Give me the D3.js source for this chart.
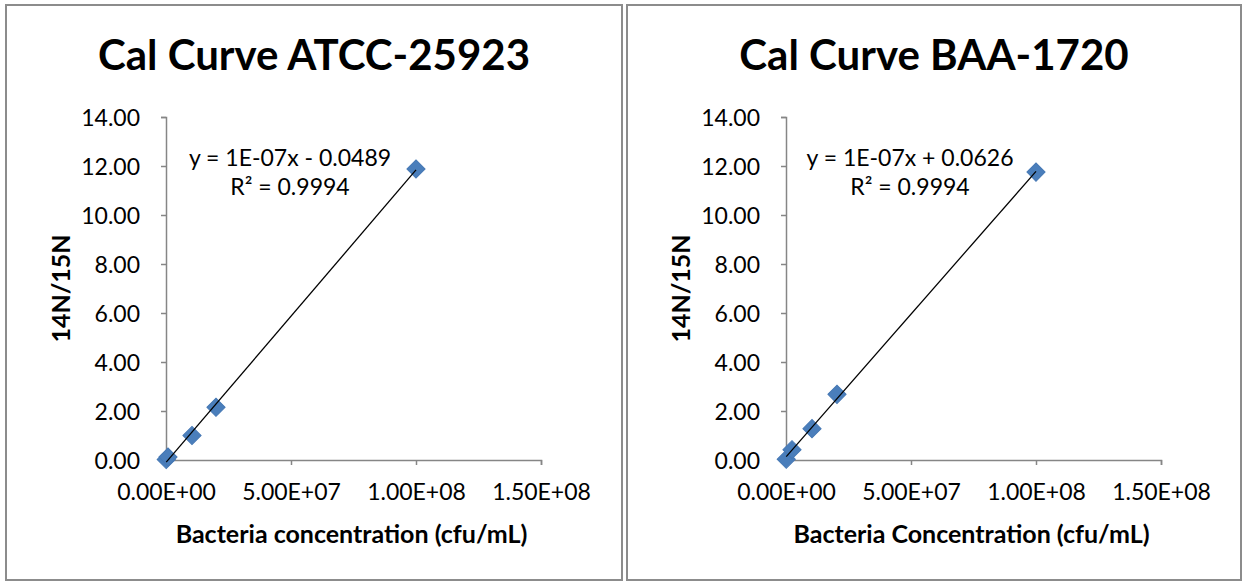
<!DOCTYPE html>
<html>
<head>
<meta charset="utf-8">
<script src="https://cdn.jsdelivr.net/npm/d3@7"></script>
<style>
  body { margin: 0; background: #fff; }
  svg { display: block; font-family: Lato, "Open Sans", sans-serif; }
</style>
</head>
<body>
<svg id="chart" width="1244" height="582"></svg>
<script>
// data
var titles = ["Cal Curve ATCC-25923", "Cal Curve BAA-1720"];
var xTitles = ["Bacteria concentration (cfu/mL)", "Bacteria Concentration (cfu/mL)"];
var equations = ["y = 1E-07x - 0.0489", "y = 1E-07x + 0.0626"];
var r2Labels = ["R\u00b2 = 0.9994", "R\u00b2 = 0.9994"];
var concA = [1e5, 8e5, 1.04e7, 2.0e7, 1.0e8];
var ratioA = [0.02, 0.12, 1.0, 2.15, 11.88];
var concB = [1e5, 2.4e6, 1.04e7, 2.04e7, 1.0e8];
var ratioB = [0.03, 0.42, 1.28, 2.68, 11.75];
var xTicks = [0, 5e7, 1e8, 1.5e8];
var yTicks = [0, 2, 4, 6, 8, 10, 12, 14];

var panels = [
  {x0: 6, w: 616, conc: concA, ratio: ratioA, axisX: 166},
  {x0: 627, w: 614, conc: concB, ratio: ratioB, axisX: 786}
];

var svg = d3.select("#chart");

panels.forEach(function(p, i) {
    var g = svg.append("g");

    // frame
    g.append("rect")
      .attr("x", p.x0).attr("y", 5)
      .attr("width", p.w).attr("height", 575)
      .attr("fill", "#fff")
      .attr("stroke", "#8c8c8c")
      .attr("stroke-width", 2);

    var x = d3.scaleLinear().domain([0, 1.5e8]).range([p.axisX, p.axisX + 375]);
    var y = d3.scaleLinear().domain([0, 14]).range([460, 117]);

    // title
    g.append("text")
      .attr("x", p.axisX + 148).attr("y", 70)
      .attr("text-anchor", "middle")
      .attr("font-size", "42px")
      .attr("font-weight", "bold")
      .text(titles[i]);

    // axes
    var yAxis = g.append("g")
      .attr("transform", "translate(" + p.axisX + ",0)")
      .call(d3.axisLeft(y).tickValues(yTicks).tickSize(5).tickPadding(21)
        .tickFormat(d3.format(".2f")));
    var xAxis = g.append("g")
      .attr("transform", "translate(0,460)")
      .call(d3.axisBottom(x).tickValues(xTicks).tickSize(5).tickPadding(19)
        .tickFormat(function(d) {
            var s = d3.format(".2e")(d).toUpperCase();
            return s.replace(/E([+-])(\d)$/, "E$10$2");
        }));
    [xAxis, yAxis].forEach(function(a) {
        a.select(".domain").attr("stroke", "#868686").attr("stroke-width", 1.5);
        a.selectAll(".tick line").attr("stroke", "#868686").attr("stroke-width", 1.5);
        a.selectAll(".tick text").attr("fill", "#000").attr("font-size", "23px")
          .attr("font-family", "Lato, sans-serif");
    });
    yAxis.selectAll(".tick text").attr("dy", "0.35em");

    // axis titles
    g.append("text")
      .attr("x", x(7.5e7) - 2).attr("y", 543)
      .attr("text-anchor", "middle")
      .attr("font-size", "25px").attr("font-weight", "bold")
      .text(xTitles[i]);
    g.append("text")
      .attr("transform", "translate(" + (p.axisX - 96) + "," + y(7) + ") rotate(-90)")
      .attr("text-anchor", "middle")
      .attr("font-size", "25px").attr("font-weight", "bold")
      .text("14N/15N");

    // linear trendline (least squares)
    var pts = p.conc.map(function(c, k) { return [c, p.ratio[k]]; });
    var mx = d3.mean(pts, function(d) { return d[0]; });
    var my = d3.mean(pts, function(d) { return d[1]; });
    var slope = d3.sum(pts, function(d) { return (d[0] - mx) * (d[1] - my); }) /
                d3.sum(pts, function(d) { return (d[0] - mx) * (d[0] - mx); });
    var icpt = my - slope * mx;
    var xMin = d3.min(p.conc), xMax = d3.max(p.conc);

    // markers
    g.selectAll("path.pt").data(pts).enter()
      .append("path")
      .attr("class", "pt")
      .attr("d", d3.symbol().type(d3.symbolSquare).size(165))
      .attr("transform", function(d) {
          return "translate(" + x(d[0]) + "," + y(d[1]) + ") rotate(45)";
      })
      .attr("fill", "#4a7ebb")
      .attr("stroke", "#4678b4")
      .attr("stroke-width", 1);

    g.append("line")
      .attr("x1", x(xMin)).attr("y1", y(slope * xMin + icpt))
      .attr("x2", x(xMax)).attr("y2", y(slope * xMax + icpt))
      .attr("stroke", "#000").attr("stroke-width", 1.3);

    // equation labels
    g.append("text")
      .attr("x", p.axisX + 124).attr("y", 166)
      .attr("text-anchor", "middle")
      .attr("font-size", "23px")
      .text(equations[i]);
    g.append("text")
      .attr("x", p.axisX + 124).attr("y", 195)
      .attr("text-anchor", "middle")
      .attr("font-size", "23px")
      .text(r2Labels[i]);
});
</script>
</body>
</html>
